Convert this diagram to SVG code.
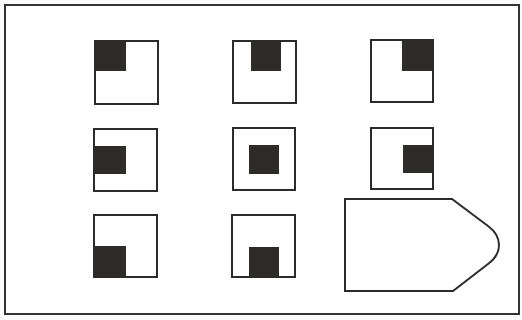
<svg xmlns="http://www.w3.org/2000/svg" width="522" height="320" viewBox="0 0 522 320">
<style>
.frame{fill:#fff;stroke:#333;stroke-width:2}
.box{fill:#fff;stroke:#2b2b2b;stroke-width:2}
.dk{fill:#2e2c2a}
</style>
<rect x="0" y="0" width="522" height="320" fill="#fbfbfb"/>
<rect class="frame" x="5" y="5" width="514" height="309"/>
<g id="c1"><rect class="box" x="95" y="41" width="63" height="63"/><rect class="dk" x="94" y="40" width="32" height="31"/></g>
<g id="c2"><rect class="box" x="233" y="41" width="63" height="62"/><rect class="dk" x="251" y="40" width="30" height="31"/></g>
<g id="c3"><rect class="box" x="371" y="40" width="62" height="62"/><rect class="dk" x="402" y="39" width="32" height="32"/></g>
<g id="c4"><rect class="box" x="94" y="129" width="63" height="62"/><rect class="dk" x="93" y="146" width="33" height="28"/></g>
<g id="c5"><rect class="box" x="233" y="128" width="62" height="62"/><rect class="dk" x="249" y="145" width="30" height="29"/></g>
<g id="c6"><rect class="box" x="371" y="128" width="62" height="61"/><rect class="dk" x="403" y="145" width="31" height="28"/></g>
<g id="c7"><rect class="box" x="94" y="215" width="63" height="62"/><rect class="dk" x="93" y="246" width="33" height="32"/></g>
<g id="c8"><rect class="box" x="232" y="215" width="63" height="62"/><rect class="dk" x="249" y="247" width="30" height="31"/></g>
<g id="answer"><path class="box" d="M345,199 H452 L488,226 Q499,234 499,245 Q499,256 488,264 L453,291 H345 Z"/></g>
</svg>
